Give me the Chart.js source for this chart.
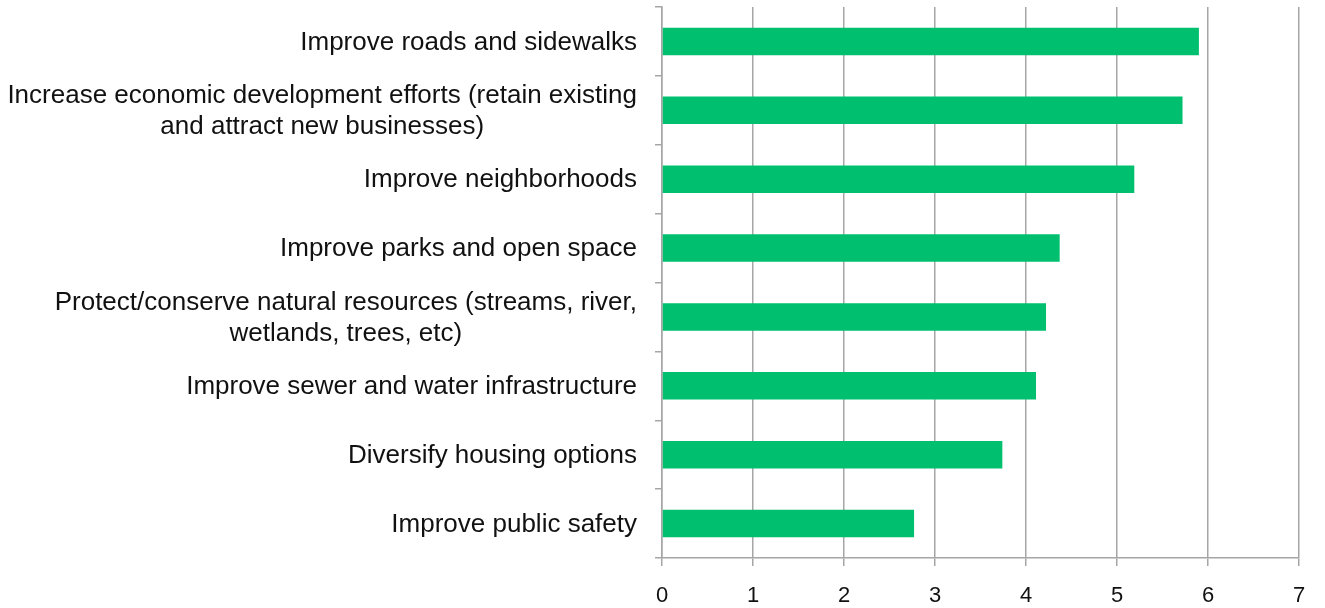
<!DOCTYPE html>
<html>
<head>
<meta charset="utf-8">
<script src="https://cdn.jsdelivr.net/npm/chart.js@4"></script>
<style>
  html, body { margin: 0; padding: 0; background: #fff; }
  #wrap { width: 1325px; height: 608px; }
</style>
</head>
<body>
<div id="wrap"><canvas id="chart"></canvas></div>
<script>
const categories = [
  ['Improve roads and sidewalks'],
  ['Increase economic development efforts (retain existing', 'and attract new businesses)'],
  ['Improve neighborhoods'],
  ['Improve parks and open space'],
  ['Protect/conserve natural resources (streams, river,', 'wetlands, trees, etc)'],
  ['Improve sewer and water infrastructure'],
  ['Diversify housing options'],
  ['Improve public safety']
];
const scores = [5.90, 5.72, 5.19, 4.37, 4.22, 4.11, 3.74, 2.77];
const xTicks = [0, 1, 2, 3, 4, 5, 6, 7];

const labelFont = '26px "Liberation Sans", Arial, sans-serif';
const gridGray = '#a6a6a6';

// category labels: single lines right aligned, wrapped lines centred on each other
const labelPlugin = {
  id: 'catLabels',
  afterDraw(chart) {
    const ctx = chart.ctx;
    const yScale = chart.scales.y;
    const right = yScale.right - 25;
    const lineH = 31;
    ctx.save();
    ctx.font = labelFont;
    ctx.fillStyle = '#111';
    ctx.textAlign = 'center';
    ctx.textBaseline = 'middle';
    categories.forEach((lines, i) => {
      const cy = yScale.getPixelForTick(i) + 1;
      const w = Math.max(...lines.map(l => ctx.measureText(l).width));
      const cx = right - w / 2;
      const y0 = cy - (lines.length - 1) * lineH / 2;
      lines.forEach((l, j) => ctx.fillText(l, cx, y0 + j * lineH));
    });
    ctx.restore();
  }
};

new Chart(document.getElementById('chart'), {
  type: 'bar',
  data: {
    labels: categories,
    datasets: [{
      data: scores,
      backgroundColor: '#00bf6f',
      barPercentage: 0.4,
      categoryPercentage: 1
    }]
  },
  options: {
    indexAxis: 'y',
    responsive: true,
    maintainAspectRatio: false,
    animation: false,
    layout: { padding: { top: 7, right: 26, left: 0, bottom: 0 } },
    plugins: { legend: { display: false }, tooltip: { enabled: false } },
    scales: {
      x: {
        min: 0,
        max: 7,
        afterBuildTicks: s => { s.ticks = xTicks.map(v => ({ value: v })); },
        afterFit: s => { s.height = 50; },
        grid: { color: gridGray, lineWidth: 1.5, tickLength: 8 },
        border: { color: gridGray, width: 1.5 },
        ticks: {
          color: '#111',
          padding: 17,
          font: { family: '"Liberation Sans", Arial, sans-serif', size: 22 }
        }
      },
      y: {
        afterFit: s => { s.width = 662; },
        grid: { drawOnChartArea: false, color: gridGray, lineWidth: 1.5, tickLength: 7 },
        border: { color: gridGray, width: 1.5 },
        ticks: { display: false }
      }
    }
  },
  plugins: [labelPlugin]
});
</script>
</body>
</html>
